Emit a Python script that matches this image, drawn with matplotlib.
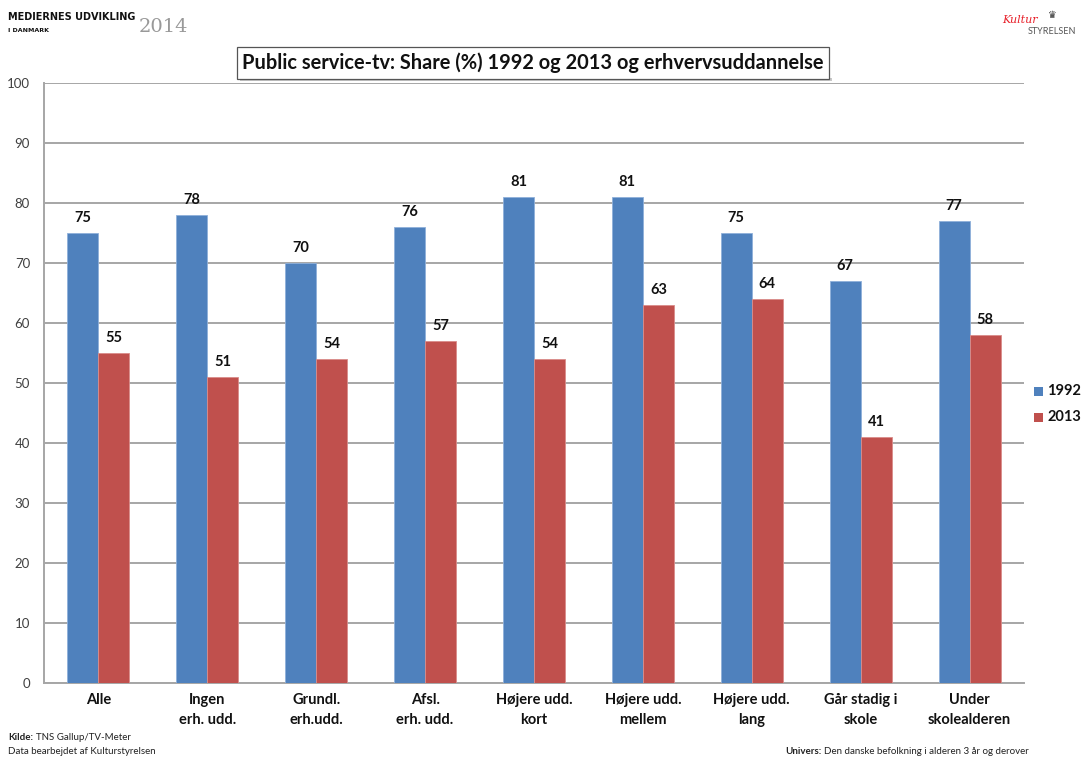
import matplotlib
matplotlib.use("Agg")
import matplotlib.pyplot as plt
import numpy as np
from matplotlib.patches import Rectangle

plt.rcParams['font.family'] = ['Lato', 'DejaVu Sans']

categories = ["Alle", "Ingen\nerh. udd.", "Grundl.\nerh.udd.", "Afsl.\nerh. udd.",
              "Højere udd.\nkort", "Højere udd.\nmellem", "Højere udd.\nlang",
              "Går stadig i\nskole", "Under\nskolealderen"]
share_1992 = [75, 78, 70, 76, 81, 81, 75, 67, 77]
share_2013 = [55, 51, 54, 57, 54, 63, 64, 41, 58]
series_names = ["1992", "2013"]
y_ticks = [0, 10, 20, 30, 40, 50, 60, 70, 80, 90, 100]

BLUE = "#4F81BD"
RED = "#C0504D"
W, H = 1083, 758

fig = plt.figure(figsize=(W / 100, H / 100), dpi=100)
fig.patch.set_facecolor("white")

ax = fig.add_axes([44 / W, 1 - 683 / H, 980 / W, 600 / H])
x = np.arange(len(categories))
bw = 0.285

b1 = ax.bar(x - bw / 2, share_1992, bw, color=BLUE, edgecolor="#8FB0DA", linewidth=0.6, zorder=3)
b2 = ax.bar(x + bw / 2, share_2013, bw, color=RED, edgecolor="#DA8C8A", linewidth=0.6, zorder=3)

for bars, vals in ((b1, share_1992), (b2, share_2013)):
    for rect, v in zip(bars, vals):
        ax.annotate(f"{v}", (rect.get_x() + rect.get_width() / 2, v),
                    xytext=(0, 6), textcoords="offset points",
                    ha="center", va="bottom", fontsize=10.5, fontweight="bold",
                    color="#111111", zorder=4)

ax.set_xlim(-0.5, len(categories) - 0.5)
ax.set_ylim(0, 100)
ax.set_yticks(y_ticks)
ax.set_yticklabels([str(t) for t in y_ticks], fontsize=9.5, color="#404040")
ax.set_xticks(x)
ax.set_xticklabels(categories, fontsize=10.5, fontweight="bold", color="#111111",
                   linespacing=1.55)
ax.tick_params(axis="x", length=0, pad=7)
ax.tick_params(axis="y", length=0, pad=10)
ax.grid(axis="y", color="#A6A6A6", linewidth=1.4, zorder=0)
for s in ("top", "right"):
    ax.spines[s].set_visible(False)
for s in ("left", "bottom"):
    ax.spines[s].set_color("#A6A6A6")
    ax.spines[s].set_linewidth(1.4)

# legend on the right
for i, (name, col) in enumerate(zip(series_names, (BLUE, RED))):
    yc = 1 - (391 + 26 * i) / H
    fig.patches.append(Rectangle((1034 / W, yc - 4.5 / H), 9 / W, 9 / H,
                                 transform=fig.transFigure, facecolor=col,
                                 edgecolor="none"))
    fig.text(1047 / W, yc, name, fontsize=10.5, fontweight="bold",
             color="#111111", va="center", ha="left")

# title box with a soft shadow line beneath
fig.patches.append(Rectangle((240 / W, 1 - 81 / H), 592 / W, 3 / H,
                             transform=fig.transFigure, facecolor="#C8C8C8",
                             edgecolor="none"))
fig.text(533 / W, 1 - 63 / H, "Public service-tv: Share (%) 1992 og 2013 og erhvervsuddannelse",
         fontsize=14.4, fontweight="bold", color="#111111", ha="center", va="center",
         bbox=dict(boxstyle="square,pad=0.28", facecolor="white",
                   edgecolor="#555555", linewidth=0.9))

# header
fig.text(8 / W, 1 - 17 / H, "MEDIERNES UDVIKLING", fontsize=7.0, fontweight="heavy",
         color="#111111", va="center", ha="left", family=["DejaVu Sans"])
fig.text(8 / W, 1 - 30 / H, "I DANMARK", fontsize=4.5, fontweight="heavy",
         color="#111111", va="center", ha="left", family=["DejaVu Sans"])
fig.text(139 / W, 1 - 27 / H, "2014", fontsize=14, color="#999999", va="center",
         ha="left", family=["DejaVu Serif"])

# logo
fig.text(1020 / W, 1 - 20 / H, "Kultur", fontsize=8, color="#E8202A", style="italic",
         va="center", ha="center", family=["DejaVu Serif"])
fig.text(1052 / W, 1 - 15 / H, "♛", fontsize=7, color="#333333", va="center",
         ha="center", family=["DejaVu Sans"])
fig.text(1052 / W, 1 - 31 / H, "STYRELSEN", fontsize=6.5, color="#555555",
         va="center", ha="center")

renderer = fig.canvas.get_renderer()


def two_part(xp, yp, bold, rest, size):
    t = fig.text(xp / W, 1 - yp / H, bold, fontsize=size, fontweight="bold",
                 color="#222222", va="center", ha="left")
    ext = t.get_window_extent(renderer=renderer)
    fig.text((ext.x1 + 3) / W, 1 - yp / H, rest, fontsize=size, color="#222222",
             va="center", ha="left")


two_part(8, 737, "Kilde:", "TNS Gallup/TV-Meter", 7)
fig.text(8 / W, 1 - 751 / H, "Data bearbejdet af Kulturstyrelsen", fontsize=7,
         color="#222222", va="center", ha="left")
two_part(785, 751, "Univers:", "Den danske befolkning i alderen 3 år og derover", 7)

fig.savefig("out.png", dpi=100, facecolor="white")
